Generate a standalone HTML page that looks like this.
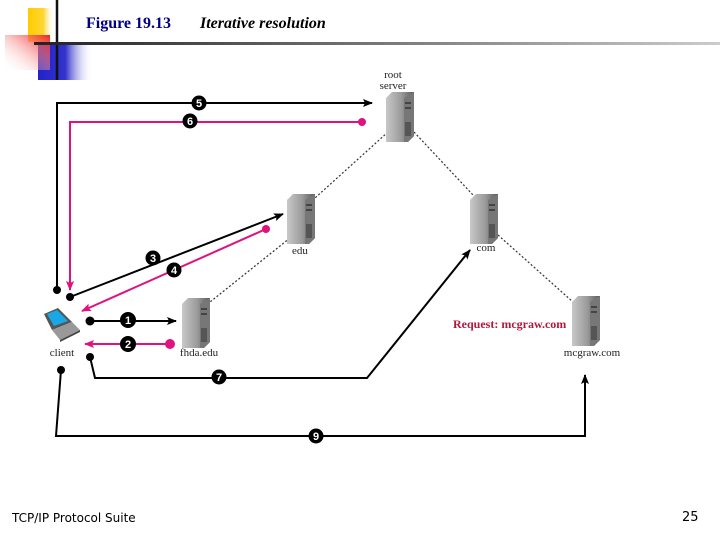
<!DOCTYPE html>
<html><head><style>
html,body{margin:0;padding:0;background:#fff;}
body{width:720px;height:540px;overflow:hidden;position:relative;font-family:"Liberation Serif",serif;}
</style></head><body>
<svg width="720" height="540" xmlns="http://www.w3.org/2000/svg" style="position:absolute;left:0;top:0">
<defs>
<linearGradient id="yel" x1="0" x2="1"><stop offset="0" stop-color="#ffcc00"/><stop offset="0.6" stop-color="#ffd633"/><stop offset="1" stop-color="#fff" stop-opacity="0"/></linearGradient>
<linearGradient id="red" x1="1" x2="0" y1="0" y2="1"><stop offset="0" stop-color="#ee2222"/><stop offset="1" stop-color="#fff" stop-opacity="0"/></linearGradient>
<linearGradient id="blu" x1="0" x2="1"><stop offset="0" stop-color="#2222cc"/><stop offset="0.5" stop-color="#3333cc"/><stop offset="1" stop-color="#fff" stop-opacity="0"/></linearGradient>
<linearGradient id="hl" x1="0" x2="1"><stop offset="0" stop-color="#222"/><stop offset="1" stop-color="#ccc"/></linearGradient>
<linearGradient id="srv" x1="0" x2="1"><stop offset="0" stop-color="#c8c8c8"/><stop offset="0.55" stop-color="#9a9a9a"/><stop offset="1" stop-color="#5a5a5a"/></linearGradient>
<marker id="ab" markerWidth="10" markerHeight="8" refX="9" refY="4" orient="auto" markerUnits="userSpaceOnUse"><path d="M0,0 L10,4 L0,8 L2,4 Z" fill="#000"/></marker>
<marker id="am" markerWidth="10" markerHeight="8" refX="9" refY="4" orient="auto" markerUnits="userSpaceOnUse"><path d="M0,0 L10,4 L0,8 L2,4 Z" fill="#e0127f"/></marker>
<g id="server">
<path d="M0,6 L6,0 L28,0 L28,44 L22,50 L0,50 Z" fill="url(#srv)"/>
<path d="M18,6 L28,0 L28,44 L22,50 L18,50 Z" fill="#777"/>
<rect x="19" y="10" width="6" height="2" fill="#444"/><rect x="19" y="15" width="6" height="2" fill="#444"/>
<rect x="19" y="30" width="6" height="14" fill="#555"/>
</g>
</defs>
<rect x="28" y="8" width="26" height="34" fill="url(#yel)"/>
<rect x="38" y="45" width="55" height="35" fill="url(#blu)"/>
<rect x="5" y="35" width="45" height="35" fill="url(#red)"/>
<line x1="57" y1="0" x2="57" y2="80" stroke="#111" stroke-width="2.5"/>
<rect x="34" y="42" width="686" height="3" fill="url(#hl)"/>
<text x="86" y="28" font-size="16" fill="#000080" font-weight="bold" font-family="Liberation Serif,serif">Figure 19.13</text>
<text x="200" y="28" font-size="16" font-weight="bold" font-style="italic" font-family="Liberation Serif,serif">Iterative resolution</text>
<g stroke="#333" stroke-width="1.2" stroke-dasharray="2,2" fill="none">
<line x1="388" y1="132" x2="315" y2="198"/>
<line x1="414" y1="132" x2="473" y2="195"/>
<line x1="290" y1="238" x2="210" y2="302"/>
<line x1="498" y1="235" x2="573" y2="302"/>
</g>
<use href="#server" x="386" y="92"/>
<use href="#server" x="287" y="194"/>
<use href="#server" x="470" y="194"/>
<use href="#server" x="182" y="298"/>
<use href="#server" x="572" y="296"/>
<g>
<path d="M44,314 L58,308 L72,322 L52,330 Z" fill="#555"/>
<path d="M47,314 L57,310 L68,321 L54,326 Z" fill="#19a8e6"/>
<path d="M52,330 L72,322 L80,330 L60,340 Z" fill="#999"/>
<path d="M60,340 L80,330 L80,332 L60,342 Z" fill="#444"/>
</g>
<g font-size="11" text-anchor="middle" fill="#222">
<text x="393" y="78">root</text><text x="393" y="89">server</text>
<text x="300" y="254">edu</text>
<text x="486" y="251">com</text>
<text x="199" y="356">fhda.edu</text>
<text x="592" y="356">mcgraw.com</text>
<text x="62" y="356">client</text>
</g>
<text x="453" y="328" font-size="12" font-weight="bold" fill="#b0183c">Request: mcgraw.com</text>
<g fill="none" stroke-width="2">
<polyline points="57,290 57,103 372,103" stroke="#000" marker-end="url(#ab)"/>
<polyline points="362,122 70,122 70,290" stroke="#e0127f" marker-end="url(#am)"/>
<line x1="70" y1="297" x2="283" y2="214" stroke="#000" marker-end="url(#ab)"/>
<line x1="266" y1="229" x2="82" y2="311" stroke="#e0127f" marker-end="url(#am)"/>
<line x1="90" y1="321" x2="176" y2="321" stroke="#000" marker-end="url(#ab)"/>
<line x1="170" y1="344" x2="85" y2="344" stroke="#e0127f" marker-end="url(#am)"/>
<polyline points="90,357 95,378 367,378 470,250" stroke="#000" marker-end="url(#ab)"/>
<polyline points="61,370 56,436 585,436 585,375" stroke="#000" marker-end="url(#ab)"/>
</g>
<g fill="#000">
<circle cx="57" cy="290" r="4"/><circle cx="70" cy="297" r="4"/><circle cx="90" cy="321" r="4.5"/>
<circle cx="90" cy="357" r="4"/><circle cx="61" cy="370" r="4"/>
</g>
<g fill="#e0127f"><circle cx="362" cy="122" r="4"/><circle cx="266" cy="229" r="4"/><circle cx="170" cy="344" r="5"/></g>
<g font-size="11" font-weight="bold" fill="#fff" text-anchor="middle" font-family="Liberation Sans,sans-serif">
<circle cx="199" cy="103" r="7.5" fill="#000"/><text x="199" y="107">5</text>
<circle cx="190" cy="121" r="7.5" fill="#000"/><text x="190" y="125">6</text>
<circle cx="153" cy="258" r="7.5" fill="#000"/><text x="153" y="262">3</text>
<circle cx="174" cy="270" r="7.5" fill="#000"/><text x="174" y="274">4</text>
<circle cx="128" cy="320" r="8" fill="#000"/><text x="128" y="324">1</text>
<circle cx="128" cy="344" r="8" fill="#000"/><text x="128" y="348">2</text>
<circle cx="219" cy="377" r="7.5" fill="#000"/><text x="219" y="381">7</text>
<circle cx="316" cy="436" r="7.5" fill="#000"/><text x="316" y="440">9</text>
</g>
<text x="12" y="522" font-size="12" font-family="DejaVu Sans,sans-serif">TCP/IP Protocol Suite</text>
<text x="682" y="521" font-size="13" font-family="DejaVu Sans,sans-serif">25</text>
</svg>
</body></html>
